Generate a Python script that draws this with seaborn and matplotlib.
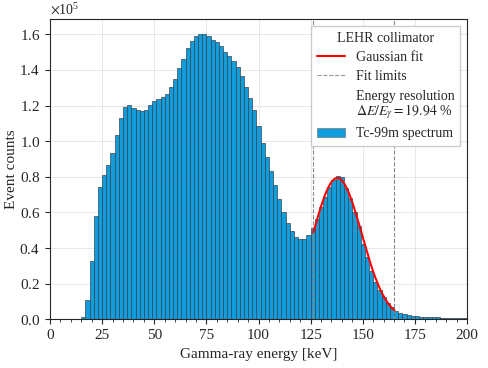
import numpy as np
import pandas as pd
import matplotlib
matplotlib.use("Agg")
import matplotlib.pyplot as plt
import seaborn as sns
from matplotlib.lines import Line2D
from matplotlib.patches import Patch
from matplotlib.ticker import MultipleLocator, AutoMinorLocator, ScalarFormatter

# bin centres (keV), 2 keV wide bins
energy = np.arange(0, 202, 2)

# event counts per bin, in units of 1e5
counts_e5 = [
    0, 0, 0, 0, 0, 0, 0, 0,                                  # 0 - 14
    0.015, 0.108, 0.330, 0.580, 0.744, 0.808, 0.868, 0.936,  # 16 - 30
    1.033, 1.132, 1.194, 1.201, 1.188, 1.173, 1.170, 1.173,  # 32 - 46
    1.201, 1.226, 1.237, 1.246, 1.263, 1.306, 1.349, 1.413,  # 48 - 62
    1.461, 1.525, 1.563, 1.589, 1.604, 1.604, 1.591, 1.570,  # 64 - 78
    1.555, 1.535, 1.501, 1.478, 1.450, 1.418, 1.366, 1.306,  # 80 - 94
    1.241, 1.173, 1.087, 0.992, 0.910, 0.833, 0.752, 0.674,  # 96 - 110
    0.602, 0.543, 0.496, 0.464, 0.449, 0.449, 0.472, 0.511,  # 112 - 126
    0.563, 0.629, 0.688, 0.741, 0.782, 0.806, 0.801, 0.739,  # 128 - 142
    0.679, 0.601, 0.524, 0.423, 0.348, 0.273, 0.209, 0.165,  # 144 - 158
    0.127, 0.090, 0.071, 0.047, 0.037, 0.030, 0.022, 0.019,  # 160 - 174
    0.016, 0.014, 0.013, 0.012, 0.011, 0.011, 0.010, 0.010,  # 176 - 190
    0.009, 0.009, 0.009, 0.008, 0.008,                       # 192 - 200
]
counts = np.array(counts_e5) * 1e5
df = pd.DataFrame({"energy": energy, "counts": counts})

# gaussian fit
fit_lo, fit_hi = 126.3, 165.2
peak_energy = 137.8
peak_amp = 0.793e5
resolution = 0.1994
sigma = resolution * peak_energy / 2.3548

sns.set_style("ticks")
plt.rcParams["font.family"] = ["Liberation Serif", "DejaVu Serif"]
plt.rcParams["mathtext.fontset"] = "stix"
plt.rcParams["font.size"] = 10

fig, ax = plt.subplots(figsize=(4.88, 3.68), dpi=100)
fig.subplots_adjust(left=0.1025, right=0.957, bottom=0.1323, top=0.9476)

ax.grid(True, color="#e3e3e3", linewidth=0.6, zorder=0)
ax.set_axisbelow(True)

sns.histplot(data=df, x="energy", weights="counts", binwidth=2, binrange=(-1, 201),
             color="#119ddb", alpha=1.0, edgecolor="#3a4550", linewidth=0.5,
             ax=ax, zorder=2)

ax.axvline(fit_lo, color="#888888", linestyle="--", linewidth=0.8, zorder=3)
ax.axvline(fit_hi, color="#888888", linestyle="--", linewidth=0.8, zorder=3)

x_fit = np.linspace(fit_lo, fit_hi, 200)
y_fit = peak_amp * np.exp(-0.5 * ((x_fit - peak_energy) / sigma) ** 2)
sns.lineplot(x=x_fit, y=y_fit, color="red", linewidth=1.5, ax=ax, zorder=4)

ax.set_xlim(0, 200)
ax.set_ylim(0, 1.684e5)
ax.xaxis.set_major_locator(MultipleLocator(25))
ax.xaxis.set_minor_locator(AutoMinorLocator(5))
ax.yaxis.set_major_locator(MultipleLocator(0.2e5))
fmt = ScalarFormatter(useMathText=True)
fmt.set_powerlimits((0, 0))
ax.yaxis.set_major_formatter(fmt)
ax.tick_params(labelsize=11)
ax.yaxis.get_offset_text().set_fontsize(10)

ax.set_xlabel("Gamma-ray energy [keV]", fontsize=11)
ax.set_ylabel("Event counts", fontsize=11, labelpad=1)

handles = [
    Line2D([], [], color="red", linewidth=1.5),
    Line2D([], [], color="#999999", linestyle="--", linewidth=0.8),
    Line2D([], [], color="none"),
    Patch(facecolor="#119ddb", edgecolor="#777777", linewidth=0.5),
]
labels = ["Gaussian fit", "Fit limits",
          "Energy resolution\n$\\Delta E/E_\\gamma = 19.94$ %",
          "Tc-99m spectrum"]
leg = ax.legend(handles, labels, title="LEHR collimator", loc="upper right",
                fontsize=10, title_fontsize=10, framealpha=1.0, edgecolor="#cccccc",
                fancybox=False, labelspacing=0.45)
for t in leg.get_texts():
    t.set_linespacing(1.0)

fig.savefig("out.png", dpi=100)
